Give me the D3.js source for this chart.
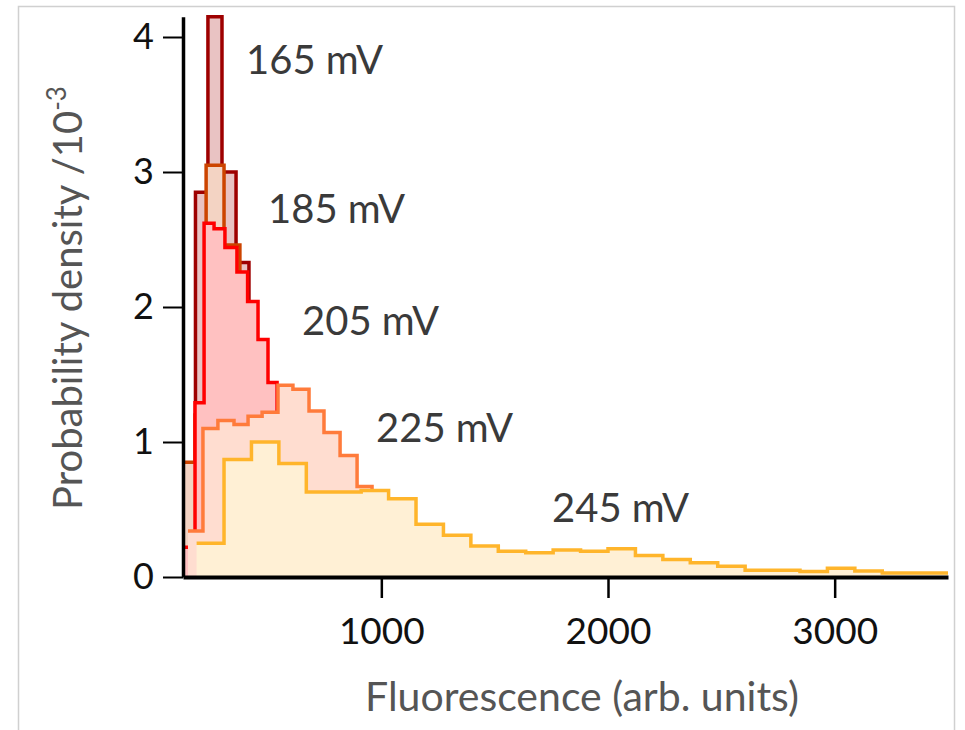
<!DOCTYPE html>
<html><head><meta charset="utf-8">
<script src="https://cdn.jsdelivr.net/npm/d3@7"></script>
<style>
body{margin:0;background:#fff}
svg{display:block}
text{font-family:Lato,"Open Sans",sans-serif}
</style>
</head><body>
<svg id="chart" width="965" height="730"></svg>
<script>
// ---- data ----
const xTickValues = [1000, 2000, 3000];
const yTickValues = [0, 1, 2, 3, 4];
const seriesNames = ["165 mV", "185 mV", "205 mV", "225 mV", "245 mV"];

const edges165 = [125, 180, 235, 297, 359, 416, 473, 531, 588, 645, 703];
const values165 = [0.52, 2.85, 4.15, 3.0, 2.33, 1.7, 1.35, 1.0, 0.7, 0.4];

const edges185 = [125, 178, 227, 306, 376, 447, 518, 588, 659, 729, 800, 870];
const values185 = [0.85, 1.2, 3.05, 2.46, 1.95, 1.4, 1.0, 0.75, 0.55, 0.4, 0.25];

const edges205 = [125, 178, 218, 262, 310, 363, 410, 456, 500, 540, 597, 663, 729, 795, 862, 928];
const values205 = [0.22, 1.29, 2.62, 2.58, 2.44, 2.26, 2.04, 1.76, 1.44, 1.15, 0.9, 0.7, 0.5, 0.3, 0.15];

const edges225 = [147, 213, 279, 350, 412, 474, 544, 610, 681, 747, 818, 893, 959, 1029, 1100, 1170, 1241, 1312, 1382, 1453, 1523];
const values225 = [0.34, 1.10, 1.16, 1.13, 1.19, 1.22, 1.42, 1.39, 1.23, 1.07, 0.9, 0.67, 0.6, 0.52, 0.38, 0.3, 0.25, 0.2, 0.15, 0.1];

const edges245 = [185, 306, 427, 548, 669, 790, 911, 1032, 1153, 1274, 1395, 1516, 1637, 1758, 1879, 2000, 2121, 2242, 2363, 2484, 2605, 2726, 2847, 2968, 3089, 3210, 3331, 3452, 3573];
const values245 = [0.25, 0.87, 1.0, 0.84, 0.63, 0.63, 0.64, 0.58, 0.39, 0.31, 0.23, 0.19, 0.18, 0.2, 0.19, 0.21, 0.16, 0.13, 0.105, 0.08, 0.05, 0.05, 0.04, 0.065, 0.045, 0.03, 0.03, 0.03];

// ---- styles ----
const strokes = ["#9e0000", "#cc4400", "#ff0000", "#ff7b3b", "#ffb52b"];
const fills   = ["#e9c3c3", "#f3d3c3", "#ffc1c1", "#ffddd0", "#fff0d5"];
const labelPos = [[246, 74], [268, 223], [302, 335], [376, 442], [552, 522]];

const series = [
  {edges: edges165, values: values165},
  {edges: edges185, values: values185},
  {edges: edges205, values: values205},
  {edges: edges225, values: values225},
  {edges: edges245, values: values245}
];

const svg = d3.select("#chart");

// frame
svg.append("rect").attr("x", 18.5).attr("y", 6.5).attr("width", 936).attr("height", 740)
  .attr("fill", "none").attr("stroke", "#d0d0d0").attr("stroke-width", 1.5);

const x = d3.scaleLinear().domain([125, 3500]).range([183, 948]);
const y = d3.scaleLinear().domain([0, 4.15]).range([577, 16.75]);

svg.append("clipPath").attr("id", "plotclip")
  .append("rect").attr("x", 183).attr("y", 0).attr("width", 765).attr("height", 577);

const plot = svg.append("g").attr("clip-path", "url(#plotclip)");

function stepPoints(s) {
  const pts = [];
  s.values.forEach((v, i) => { pts.push([s.edges[i], v]); pts.push([s.edges[i + 1], v]); });
  return pts;
}
const area = d3.area().x(d => x(d[0])).y0(y(0)).y1(d => y(d[1]));
const line = d3.line().x(d => x(d[0])).y(d => y(d[1]));

series.forEach((s, i) => {
  const pts = stepPoints(s);
  plot.append("path").attr("d", area(pts)).attr("fill", fills[i]);
  plot.append("path").attr("d", line(pts)).attr("fill", "none")
    .attr("stroke", strokes[i]).attr("stroke-width", 3.5).attr("stroke-linejoin", "miter");
});

// axes
const xAxis = svg.append("g").attr("transform", "translate(0,577)")
  .call(d3.axisBottom(x).tickValues(xTickValues).tickSize(21).tickSizeOuter(0).tickPadding(20).tickFormat(d3.format("d")));
xAxis.select(".domain").attr("stroke", "#000").attr("stroke-width", 4);
xAxis.selectAll(".tick line").attr("stroke", "#000").attr("stroke-width", 2.5);
xAxis.selectAll(".tick text").attr("fill", "#111").attr("font-size", 37).attr("font-family", "Lato");

const yAxis = svg.append("g").attr("transform", "translate(183,0)")
  .call(d3.axisLeft(y).tickValues(yTickValues).tickSize(20).tickSizeOuter(0).tickPadding(9).tickFormat(d3.format("d")));
yAxis.select(".domain").attr("stroke", "#000").attr("stroke-width", 3.5);
yAxis.selectAll(".tick line").attr("stroke", "#000").attr("stroke-width", 2);
yAxis.selectAll(".tick text").attr("fill", "#111").attr("font-size", 36).attr("font-family", "Lato");

// series labels
seriesNames.forEach((n, i) => {
  svg.append("text").attr("x", labelPos[i][0]).attr("y", labelPos[i][1])
    .attr("font-size", 40).attr("fill", "#3a3a3a").text(n);
});

// axis titles
svg.append("text").attr("x", 582).attr("y", 711).attr("text-anchor", "middle")
  .attr("font-size", 41).attr("fill", "#555").text("Fluorescence (arb. units)");

const yt = svg.append("text").attr("transform", "translate(82,298) rotate(-90)")
  .attr("text-anchor", "middle").attr("font-size", 40).attr("fill", "#555");
yt.append("tspan").text("Probability density /10");
yt.append("tspan").attr("dy", -16).attr("font-size", 26).text("-3");
</script>
</body></html>
